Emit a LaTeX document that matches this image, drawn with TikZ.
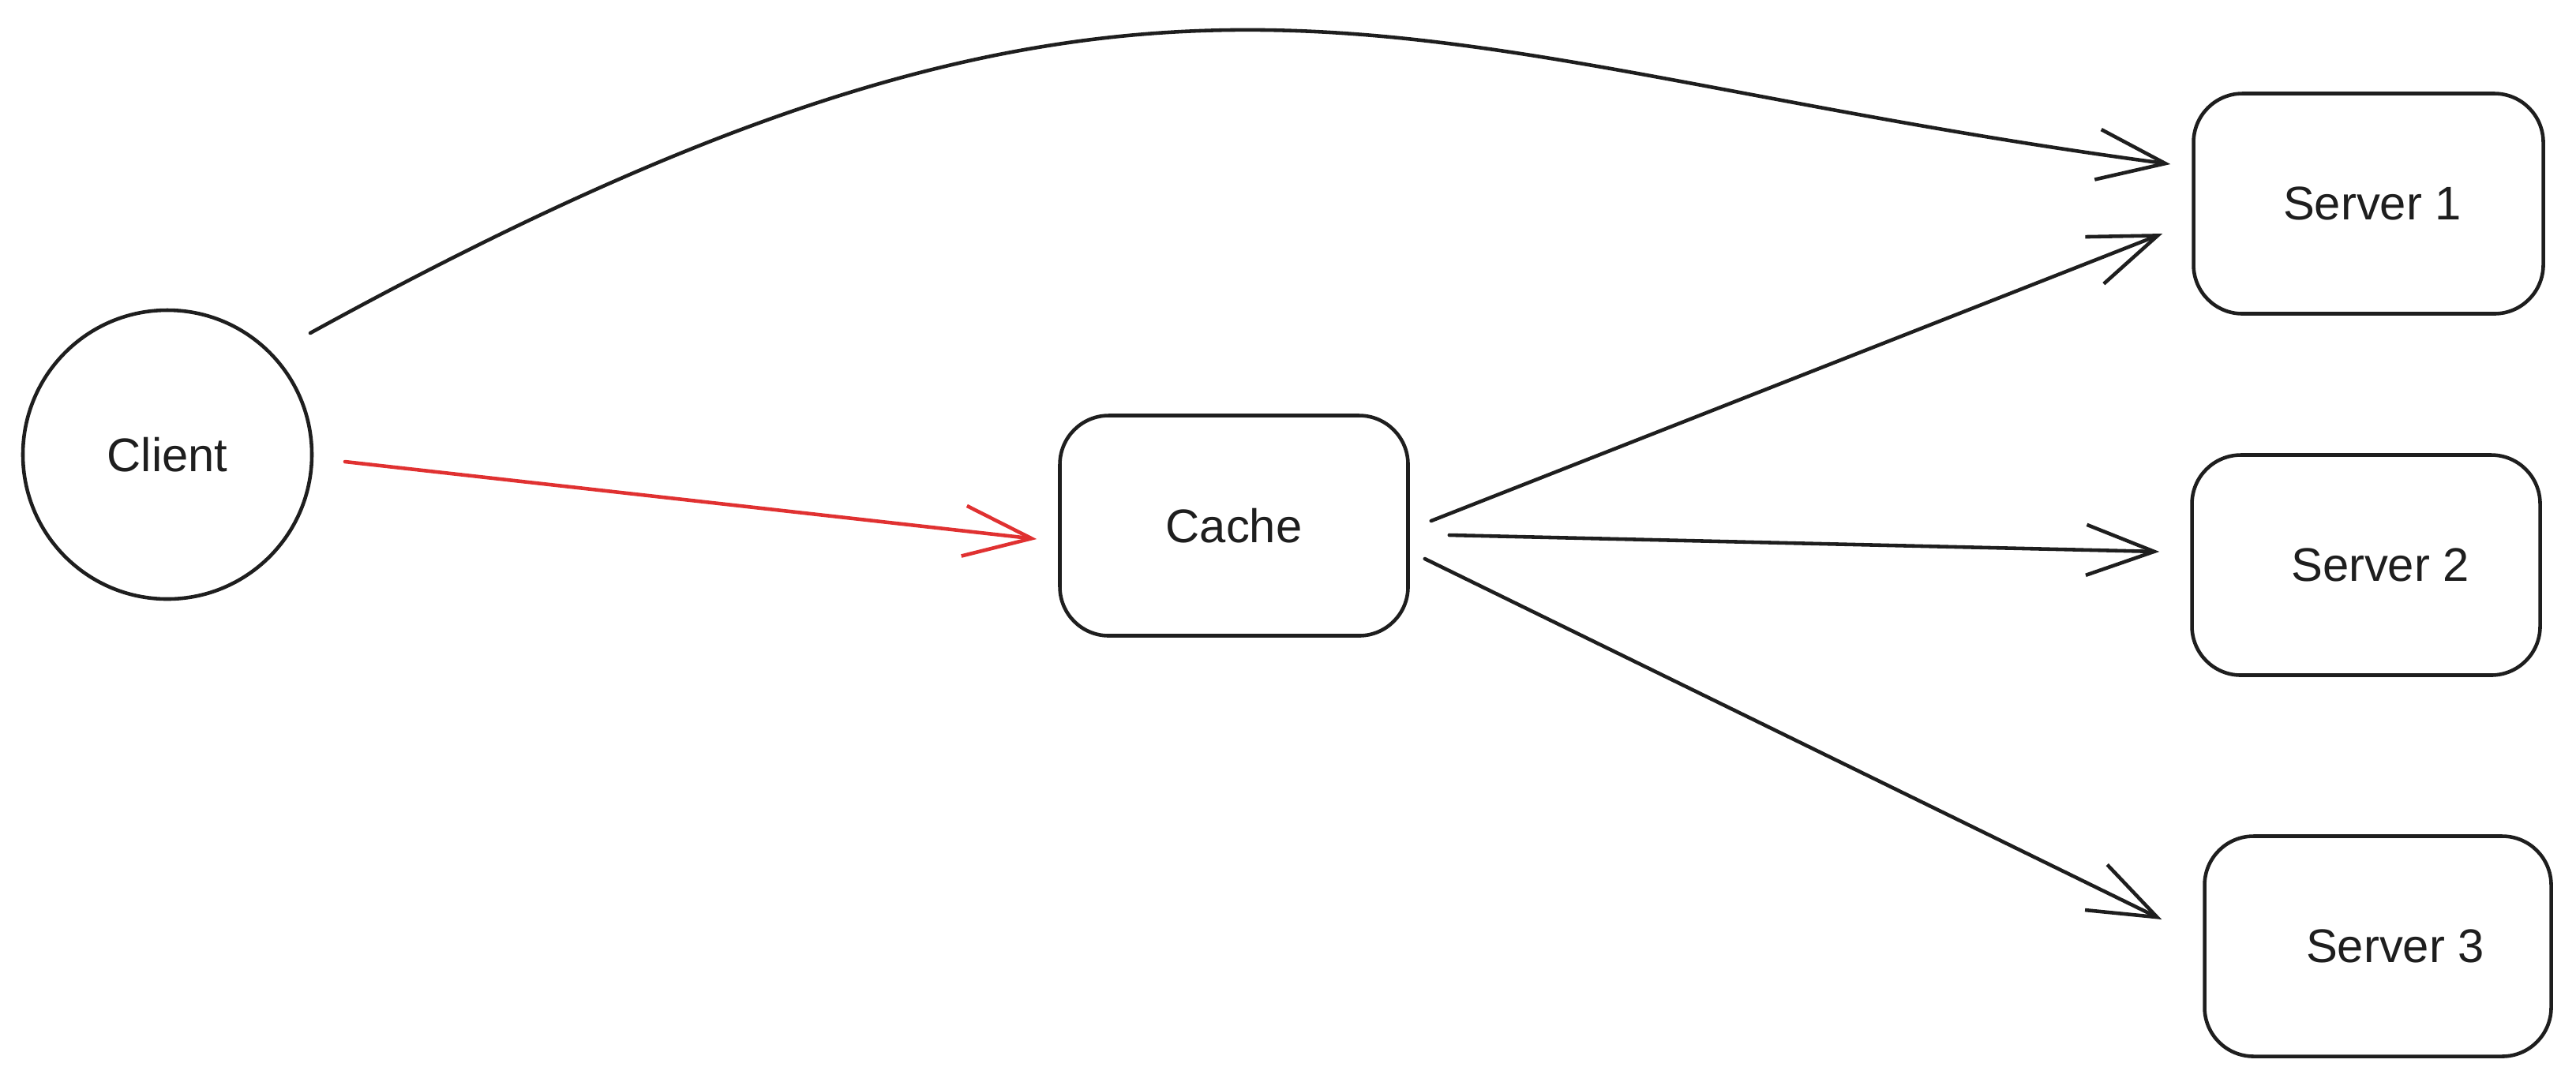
\documentclass[tikz,border=0pt]{standalone}
\usepackage{fontspec}
\setmainfont{Liberation Sans}
\usetikzlibrary{arrows.meta,calc}
\definecolor{ink}{HTML}{1E1E1E}
\definecolor{redink}{HTML}{E03131}
\tikzset{
  box/.style={draw=ink, line width=1.3pt, rounded corners=0.62cm, minimum width=4.41cm, minimum height=2.79cm, font=\fontsize{17}{20}\selectfont, text=ink},
  roundnode/.style={draw=ink, line width=1.3pt, circle, minimum size=3.66cm, inner sep=0pt, font=\fontsize{17}{20}\selectfont, text=ink},
  conn/.style={draw=ink, line width=1.3pt, line cap=round, -{Straight Barb[length=8.6mm, width=6.4mm, line width=1.3pt]}},
  redconn/.style={conn, draw=redink}
}
\begin{document}
\begin{tikzpicture}
\useasboundingbox[fill=white] (0,0) rectangle (32.63,-13.70);
\node[roundnode] (client) at (2.12,-5.76) {Client};
\node[box] (cache) at (15.63,-6.66) {Cache};
\node[box, minimum width=4.43cm] (s1) at (30.00,-2.58) {\hspace*{0.1cm}Server 1};
\node[box] (s2) at (29.97,-7.16) {\hspace*{0.36cm}Server 2};
\node[box, minimum width=4.39cm] (s3) at (30.12,-11.99) {\hspace*{0.44cm}Server 3};

% curved connector client -> server 1
\draw[conn] ($(client.center)+(1.81,1.54)$) .. controls (14.93,1.83) and (17.51,-0.75) .. ($(s1.west)+(-0.27,0.50)$);
% red connector client -> cache
\draw[redconn] ($(client.center)+(2.25,-0.09)$) -- ($(cache.west)+(-0.27,-0.17)$);
% cache -> servers
\draw[conn] ($(cache.east)+(0.27,0.06)$) -- ($(s1.west)+(-0.37,-0.38)$);
\draw[conn] ($(cache.east)+(0.50,-0.12)$) -- ($(s2.west)+(-0.39,0.17)$);
\draw[conn] ($(cache.east)+(0.19,-0.42)$) -- ($(s3.west)+(-0.52,0.34)$);
\end{tikzpicture}
\end{document}
